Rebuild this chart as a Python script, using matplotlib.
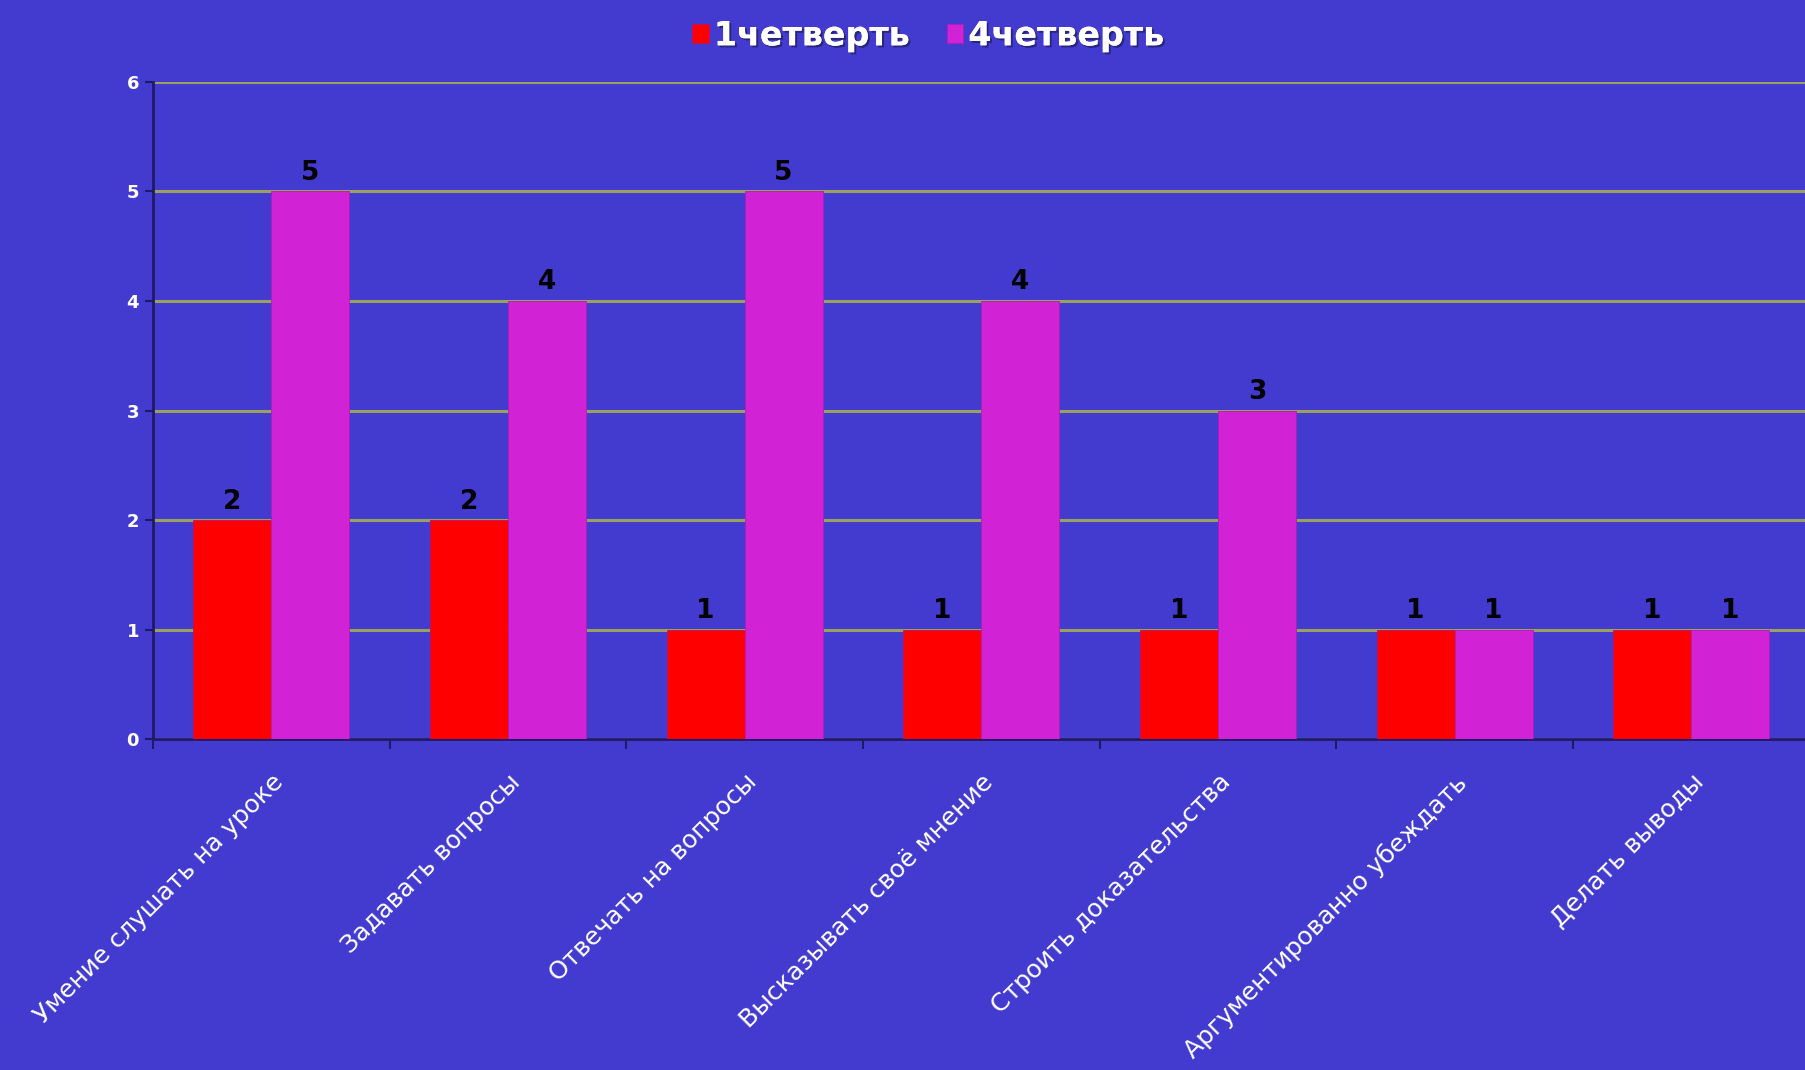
import numpy as np
import matplotlib
matplotlib.use("Agg")
import matplotlib.pyplot as plt
import matplotlib.patheffects as pe

categories = [
    'Умение слушать на уроке',
    'Задавать вопросы',
    'Отвечать на вопросы',
    'Высказывать своё мнение',
    'Строить доказательства',
    'Аргументированно убеждать',
    'Делать выводы',
]
q1 = [2, 2, 1, 1, 1, 1, 1]
q4 = [5, 4, 5, 4, 3, 1, 1]
series_labels = ['1четверть', '4четверть']

BG = '#433BCF'
RED = '#FF0000'
MAGENTA = '#D222D6'
GRID = '#9AA05E'
AXIS = '#1E1A66'

plt.rcParams['font.family'] = ['DejaVu Sans']

fig = plt.figure(figsize=(18.06, 10.70), dpi=100, facecolor=BG)
ax = fig.add_axes([0.0847, 0.309, 0.9173, 0.6145], facecolor=BG)

x = np.arange(len(categories))
width = 0.33
b1 = ax.bar(x - width / 2, q1, width, color=RED, label=series_labels[0], zorder=3,
            edgecolor='#C0106A', linewidth=0.6)
b2 = ax.bar(x + width / 2, q4, width, color=MAGENTA, label=series_labels[1], zorder=3,
            edgecolor='#B01CB8', linewidth=0.6)

for bars in (b1, b2):
    for bar in bars:
        h = bar.get_height()
        ax.annotate(f'{int(h)}', (bar.get_x() + bar.get_width() / 2, h),
                    xytext=(0, 4), textcoords='offset points', ha='center', va='bottom',
                    fontsize=19, fontweight='bold', color='black', zorder=4)

ax.set_xlim(-0.5, len(categories) - 0.5)
ax.set_ylim(0, 6)
ax.set_yticks(range(0, 7))
ax.yaxis.grid(True, color=GRID, linewidth=2.2, zorder=1)
ax.set_axisbelow(True)

ax.set_xticks(x)
ax.set_xticklabels(categories, rotation=45, ha='right', rotation_mode='anchor',
                   fontsize=18, color='white')
ax.set_xticks(np.arange(-0.5, len(categories)), minor=True)
ax.tick_params(axis='x', which='major', length=0, pad=22)
ax.tick_params(axis='x', which='minor', length=7, width=1.5, color=AXIS, direction='out')
ax.tick_params(axis='y', length=6, width=1.5, color=AXIS, labelsize=13,
               labelcolor='white', pad=4)
for lbl in ax.get_yticklabels():
    lbl.set_fontweight('bold')

for side in ('top', 'right'):
    ax.spines[side].set_visible(False)
for side in ('left', 'bottom'):
    ax.spines[side].set_color(AXIS)
    ax.spines[side].set_linewidth(2)

leg = fig.legend(loc='upper center', bbox_to_anchor=(0.514, 1.01), ncol=2, frameon=False,
                 handlelength=0.5, handleheight=0.5, handletextpad=0.15, columnspacing=1.1,
                 prop={'size': 24, 'weight': 'bold'})
for t in leg.get_texts():
    t.set_color('white')
    t.set_path_effects([pe.withSimplePatchShadow(offset=(1.5, -1.5), shadow_rgbFace='#20206a', alpha=0.8),
                        pe.Normal()])

fig.savefig('out.png', dpi=100, facecolor=BG)
